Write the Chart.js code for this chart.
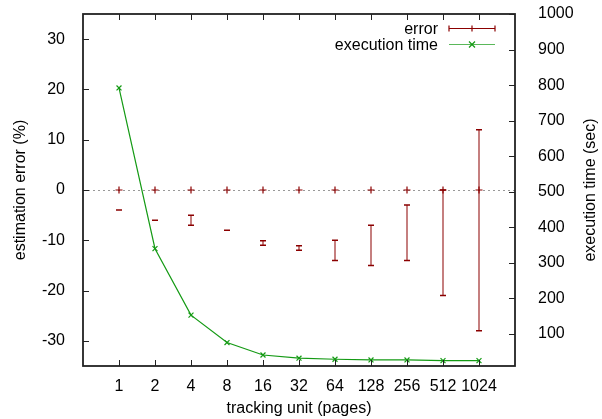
<!DOCTYPE html>
<html>
<head>
<meta charset="utf-8">
<script src="https://cdn.jsdelivr.net/npm/chart.js@4.4.0/dist/chart.umd.min.js"></script>
<style>
  body { margin: 0; background: #fff; }
  canvas { display: block; }
</style>
</head>
<body>
<canvas id="chart" width="602" height="419"></canvas>
<script>
// tracking unit sizes (pages), shown as evenly spaced categories
const units = ['1', '2', '4', '8', '16', '32', '64', '128', '256', '512', '1024'];

// estimation error (%): centre point plus low / high ends of the error bar
const errCenter = [0, 0, 0, 0, 0, 0, 0, 0, 0, 0, 0];
const errLow = [-4, -6, -7, -8, -11, -12, -14, -15, -14, -21, -28];
const errHigh = [-4, -6, -5, -8, -10.1, -11.1, -10, -7, -3, 0, 12];

// execution time (sec), right axis
const execTime = [792, 340, 153, 76, 41, 32, 29, 27, 27, 25, 25];

const errorTicks = [-30, -20, -10, 0, 10, 20, 30];
const timeTicks = [100, 200, 300, 400, 500, 600, 700, 800, 900, 1000];

const darkRed = '#8b0000';
const green = '#149a14';
const fontFamily = '"Liberation Sans", Arial, Helvetica, sans-serif';

Chart.defaults.font.family = fontFamily;
Chart.defaults.font.size = 16;
Chart.defaults.color = '#000';

const xs = units.map((u, i) => i + 1);

// keep the plot box exactly where gnuplot put it
const fixVertical = width => scale => {
  scale.width = width;
  scale.paddingTop = 0;
  scale.paddingBottom = 0;
};

// gnuplot style: zero axis, error whiskers, framed box with inward ticks, key
const gnuplotLook = {
  id: 'gnuplotLook',
  beforeDatasetsDraw(chart) {
    const { ctx, chartArea: a, scales: { x, y } } = chart;
    const y0 = Math.round(y.getPixelForValue(0)) + 0.5;
    ctx.save();
    ctx.strokeStyle = '#999';
    ctx.lineWidth = 1;
    ctx.setLineDash([2, 3]);
    ctx.beginPath();
    ctx.moveTo(a.left, y0);
    ctx.lineTo(a.right, y0);
    ctx.stroke();
    ctx.restore();

    ctx.save();
    ctx.strokeStyle = darkRed;
    xs.forEach((xv, i) => {
      const px = x.getPixelForValue(xv);
      const lo = y.getPixelForValue(errLow[i]);
      const hi = y.getPixelForValue(errHigh[i]);
      ctx.lineWidth = 2;
      ctx.globalAlpha = 0.5;
      ctx.beginPath();
      ctx.moveTo(px, lo);
      ctx.lineTo(px, hi);
      ctx.stroke();
      ctx.globalAlpha = 1;
      ctx.lineWidth = 1.5;
      ctx.beginPath();
      ctx.moveTo(px - 3, lo);
      ctx.lineTo(px + 3, lo);
      ctx.moveTo(px - 3, hi);
      ctx.lineTo(px + 3, hi);
      ctx.stroke();
    });
    ctx.restore();
  },
  afterDraw(chart) {
    const { ctx, chartArea: a, scales: { x, y, y2 } } = chart;
    const tick = 6;
    ctx.save();
    ctx.strokeStyle = '#222';
    ctx.lineWidth = 1;
    ctx.beginPath();
    xs.forEach(xv => {
      const px = Math.round(x.getPixelForValue(xv)) + 0.5;
      ctx.moveTo(px, a.bottom);
      ctx.lineTo(px, a.bottom - tick);
      ctx.moveTo(px, a.top);
      ctx.lineTo(px, a.top + tick);
    });
    errorTicks.forEach(v => {
      const py = Math.round(y.getPixelForValue(v)) + 0.5;
      ctx.moveTo(a.left, py);
      ctx.lineTo(a.left + tick, py);
    });
    timeTicks.forEach(v => {
      const py = Math.round(y2.getPixelForValue(v)) + 0.5;
      ctx.moveTo(a.right, py);
      ctx.lineTo(a.right - tick, py);
    });
    ctx.stroke();
    ctx.lineWidth = 1.8;
    ctx.strokeRect(a.left, a.top, a.right - a.left, a.bottom - a.top);

    // right axis title, reading bottom to top like the left one
    ctx.font = '16px ' + fontFamily;
    ctx.fillStyle = '#000';
    ctx.save();
    ctx.translate(y2.right - 11, (a.top + a.bottom) / 2);
    ctx.rotate(-Math.PI / 2);
    ctx.textAlign = 'center';
    ctx.textBaseline = 'middle';
    ctx.fillText('execution time (sec)', 0, 0);
    ctx.restore();

    // key, top right inside the box
    const textRight = a.right - 77;
    const s0 = a.right - 66;
    const s1 = a.right - 20;
    const sm = (s0 + s1) / 2;
    const r1 = a.top + 14.5;
    const r2 = a.top + 30.5;
    ctx.textAlign = 'right';
    ctx.textBaseline = 'middle';
    ctx.fillText('error', textRight, r1 + 1);
    ctx.fillText('execution time', textRight, r2 + 1);

    ctx.lineWidth = 1.2;
    ctx.strokeStyle = darkRed;
    ctx.beginPath();
    ctx.moveTo(s0, r1); ctx.lineTo(s1, r1);
    ctx.moveTo(s0, r1 - 3); ctx.lineTo(s0, r1 + 3);
    ctx.moveTo(s1, r1 - 3); ctx.lineTo(s1, r1 + 3);
    ctx.moveTo(sm, r1 - 3); ctx.lineTo(sm, r1 + 3);
    ctx.stroke();

    ctx.strokeStyle = green;
    ctx.globalAlpha = 0.7;
    ctx.beginPath();
    ctx.moveTo(s0, r2); ctx.lineTo(s1, r2);
    ctx.stroke();
    ctx.globalAlpha = 1;
    ctx.beginPath();
    ctx.moveTo(sm - 3, r2 - 3); ctx.lineTo(sm + 3, r2 + 3);
    ctx.moveTo(sm - 3, r2 + 3); ctx.lineTo(sm + 3, r2 - 3);
    ctx.stroke();
    ctx.restore();
  }
};

new Chart(document.getElementById('chart'), {
  type: 'line',
  data: {
    datasets: [
      {
        label: 'error',
        data: xs.map((xv, i) => ({ x: xv, y: errCenter[i] })),
        yAxisID: 'y',
        showLine: false,
        pointStyle: 'cross',
        pointRadius: 3.5,
        pointBorderWidth: 1.2,
        borderColor: darkRed,
        backgroundColor: darkRed
      },
      {
        label: 'execution time',
        data: xs.map((xv, i) => ({ x: xv, y: execTime[i] })),
        yAxisID: 'y2',
        borderColor: green,
        backgroundColor: green,
        borderWidth: 1.2,
        tension: 0,
        pointStyle: 'crossRot',
        pointRadius: 3.5,
        pointBorderWidth: 1.2
      }
    ]
  },
  options: {
    responsive: false,
    animation: false,
    devicePixelRatio: 1,
    layout: { padding: { top: 14, left: 0, right: 0, bottom: 0 } },
    plugins: {
      legend: { display: false },
      tooltip: { enabled: false }
    },
    scales: {
      x: {
        type: 'linear',
        position: 'bottom',
        min: 0,
        max: units.length + 1,
        grid: { display: false },
        border: { display: false },
        afterBuildTicks: scale => { scale.ticks = xs.map(v => ({ value: v })); },
        afterFit: scale => {
          scale.height = 53;
          scale.paddingLeft = 0;
          scale.paddingRight = 0;
        },
        ticks: {
          padding: 3,
          maxRotation: 0,
          autoSkip: false,
          callback: v => units[v - 1] || ''
        },
        title: { display: true, text: 'tracking unit (pages)', padding: { top: 0, bottom: 1 } }
      },
      y: {
        position: 'left',
        min: -35,
        max: 35,
        grid: { display: false },
        border: { display: false },
        afterBuildTicks: scale => { scale.ticks = errorTicks.map(v => ({ value: v })); },
        afterFit: fixVertical(83),
        ticks: { padding: 10, callback: v => String(v) },
        title: { display: true, text: 'estimation error (%)', padding: { top: 11, bottom: 0 } }
      },
      y2: {
        position: 'right',
        min: 10,
        max: 1000,
        grid: { display: false },
        border: { display: false },
        afterBuildTicks: scale => { scale.ticks = timeTicks.map(v => ({ value: v })); },
        afterFit: fixVertical(87),
        ticks: { padding: 15, callback: v => String(v) },
        title: { display: false }
      }
    }
  },
  plugins: [gnuplotLook]
});
</script>
</body>
</html>
